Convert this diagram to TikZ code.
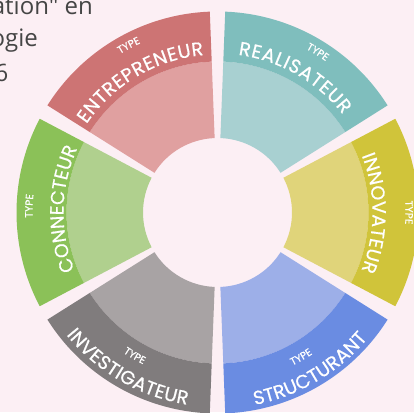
\documentclass[tikz,border=0pt]{standalone}
\usepackage{fontspec}
\newfontfamily\bodyfont{Open Sans}[Ligatures=TeXOff]
\newfontfamily\ringfont{Poppins}[FakeBold=0.6]
\usetikzlibrary{decorations.text}
\definecolor{pagebg}{HTML}{FCEFF4}
\definecolor{bodygray}{HTML}{454545}
\definecolor{redD}{HTML}{CD7474}
\definecolor{redL}{HTML}{E0A0A0}
\definecolor{tealD}{HTML}{7FBEBD}
\definecolor{tealL}{HTML}{A8D0D1}
\definecolor{yellowD}{HTML}{D0C43A}
\definecolor{yellowL}{HTML}{E0D47A}
\definecolor{blueD}{HTML}{6A8CE2}
\definecolor{blueL}{HTML}{9DAFE8}
\definecolor{grayD}{HTML}{807C7D}
\definecolor{grayL}{HTML}{A8A3A4}
\definecolor{greenD}{HTML}{8BC158}
\definecolor{greenL}{HTML}{B0D08E}
\tikzset{
	bodyline/.style={anchor=base east, inner sep=0pt, text=bodygray,
			font=\bodyfont\fontsize{24}{28}\selectfont},
	typetext/.style={decorate, decoration={text along path, text align=center,
					text={|\ringfont\fontsize{10.5}{12}\selectfont\color{white}|TYPE}}},
	nametext/.style={decorate, decoration={text along path, text align={fit to path},
					text={|\ringfont\fontsize{19}{22}\selectfont\color{white}|#1}}}
}
\newcommand\ringband[4]{%
	\fill[#4] ({#1-27.8}:#2) arc[start angle={#1-27.8}, end angle={#1+27.8}, radius=#2]
	-- ({#1+27.8}:#3) arc[start angle={#1+27.8}, end angle={#1-27.8}, radius=#3] -- cycle;}

\begin{document}
\begin{tikzpicture}[x=1pt, y=1pt]
	\useasboundingbox (0,0) rectangle (414,-412);
	\clip (0,0) rectangle (414,-412);
	\fill[pagebg] (0,0) rectangle (414,-412);
	% Paragraph text cut at the left edge
	\node[bodyline] (line1) at (93,-15) {ation" en};
	\node[bodyline] (line2) at (38,-47) {ogie};
	\node[bodyline] (line3) at (8.5,-81) {6};
	\begin{scope}[shift={(217.5,-212.5)}]
		% Sectors of the ring
		\foreach \ang/\dark/\light in {120/redD/redL, 60/tealD/tealL, 0/yellowD/yellowL,
				-60/blueD/blueL, -120/grayD/grayL, 180/greenD/greenL}{
				\ringband{\ang}{74.5}{151}{\light}
				\ringband{\ang}{151}{201}{\dark}
			}
		% Labels along the arcs
		\path[typetext] (147:186) arc[start angle=147, end angle=89, radius=186];
		\path[nametext=ENTREPRENEUR] (146:158) arc[start angle=146, end angle=95, radius=158];
		\path[typetext] (87:186) arc[start angle=87, end angle=29, radius=186];
		\path[nametext=REALISATEUR] (82.5:159) arc[start angle=82.5, end angle=38, radius=159];
		\path[typetext] (29:188) arc[start angle=29, end angle=-29, radius=188];
		\path[nametext=INNOVATEUR] (21.5:155) arc[start angle=21.5, end angle=-22, radius=155];
		\path[typetext] (271:170.5) arc[start angle=271, end angle=329, radius=170.5];
		\path[nametext=STRUCTURANT] (281:196) arc[start angle=281, end angle=320, radius=196];
		\path[typetext] (211:169) arc[start angle=211, end angle=269, radius=169];
		\path[nametext=INVESTIGATEUR] (219:194.5) arc[start angle=219, end angle=261, radius=194.5];
		\path[typetext] (207:185) arc[start angle=207, end angle=149, radius=185];
		\path[nametext=CONNECTEUR] (202:154) arc[start angle=202, end angle=157.5, radius=154];
	\end{scope}
\end{tikzpicture}
\end{document}
